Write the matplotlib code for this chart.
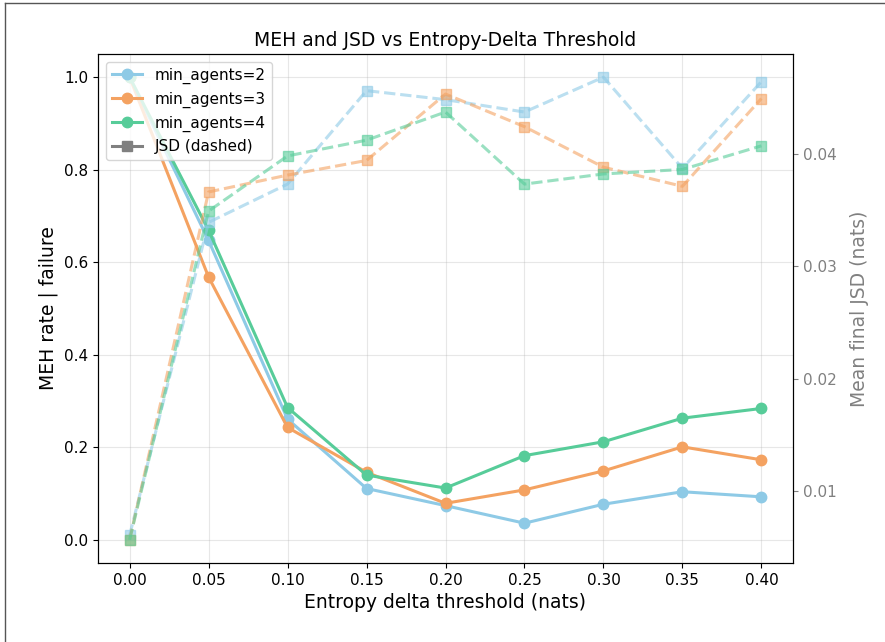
import numpy as np
import matplotlib
matplotlib.use("Agg")
import matplotlib.pyplot as plt
from matplotlib.lines import Line2D

thresholds = [0.00, 0.05, 0.10, 0.15, 0.20, 0.25, 0.30, 0.35, 0.40]
agents = [2, 3, 4]

# MEH rate | failure (solid)
meh_2 = [1.00, 0.647, 0.261, 0.111, 0.074, 0.036, 0.077, 0.104, 0.093]
meh_3 = [1.00, 0.568, 0.243, 0.146, 0.079, 0.108, 0.149, 0.201, 0.173]
meh_4 = [1.00, 0.669, 0.286, 0.140, 0.112, 0.182, 0.212, 0.263, 0.284]

# mean final JSD (dashed, right axis)
jsd_2 = [0.0061, 0.0339, 0.0373, 0.0456, 0.0448, 0.0437, 0.0468, 0.0387, 0.0464]
jsd_3 = [0.0057, 0.0366, 0.0381, 0.0394, 0.0453, 0.0424, 0.0388, 0.0371, 0.0449]
jsd_4 = [0.0057, 0.0349, 0.0398, 0.0412, 0.0437, 0.0373, 0.0382, 0.0386, 0.0407]

colors = ['#8ecae6', '#f4a261', '#57cc99']
meh = [meh_2, meh_3, meh_4]
jsd = [jsd_2, jsd_3, jsd_4]

fig = plt.figure(figsize=(8.85, 6.42), dpi=100)
ax1 = fig.add_axes([98/885, 1-563/642, (793-98)/885, (563-54)/642])
ax2 = ax1.twinx()

handles = []
for a, m, j, c in zip(agents, meh, jsd, colors):
    h, = ax1.plot(thresholds, m, '-o', color=c, lw=2.2, ms=7.5, label=f'min_agents={a}')
    handles.append(h)
    ax2.plot(thresholds, j, '--s', color=c, lw=2.2, ms=7.5, alpha=0.6)

handles.append(Line2D([0], [0], color='gray', marker='s', lw=2.2, ms=7.5, label='JSD (dashed)'))

ax1.set_ylim(-0.05, 1.05)
ax1.set_xlabel('Entropy delta threshold (nats)', fontsize=13.5)
ax1.set_ylabel('MEH rate | failure', fontsize=13.5)
ax2.set_ylabel('Mean final JSD (nats)', fontsize=13.5, color='gray', labelpad=10)
ax1.tick_params(labelsize=11)
ax2.tick_params(axis='y', colors='gray', labelsize=11)
ax2.spines['right'].set_color('black')
ax1.set_title('MEH and JSD vs Entropy-Delta Threshold', fontsize=13.5)
ax1.set_xticks(thresholds)
ax1.set_xticklabels([f'{t:.2f}' for t in thresholds])
ax1.grid(True, alpha=0.3)
ax1.legend(handles=handles, loc='upper left', fontsize=11)

# screenshot frame on left and top
fig.add_artist(Line2D([5/885, 5/885], [0, 1-3/642], color='#555555', lw=1))
fig.add_artist(Line2D([5/885, 1], [1-3/642, 1-3/642], color='#555555', lw=1))

fig.savefig('out.png', dpi=100)
